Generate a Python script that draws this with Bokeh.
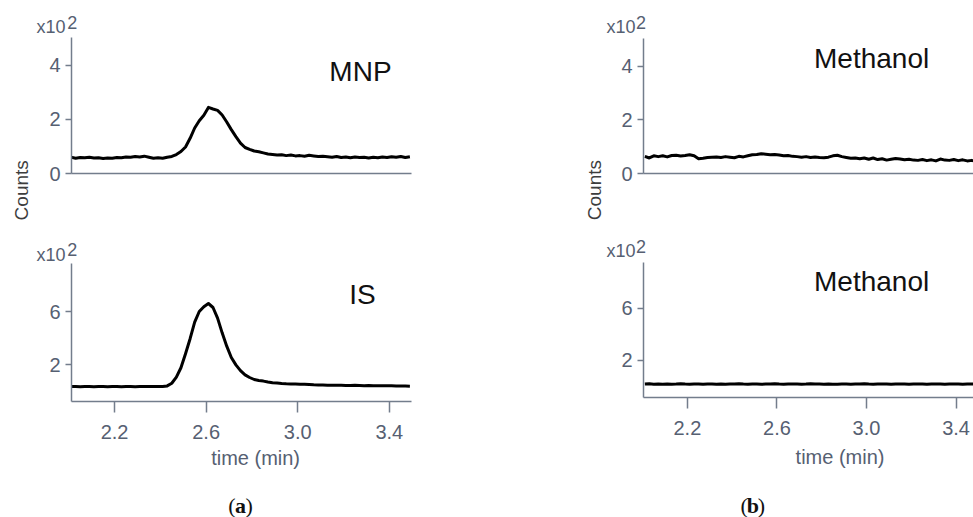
import math
from bokeh.plotting import figure
from bokeh.models import Range1d, FixedTicker, Label
from bokeh.layouts import column, row
from bokeh.embed import file_html
from bokeh.resources import INLINE

# ---------------- data ----------------
time_min = [2.01, 2.03, 2.05, 2.07, 2.09, 2.11, 2.13, 2.15, 2.17, 2.19,
            2.21, 2.23, 2.25, 2.27, 2.29, 2.31, 2.33, 2.35, 2.37, 2.39,
            2.41, 2.43, 2.45, 2.47, 2.49, 2.51, 2.53, 2.55, 2.57, 2.59,
            2.61, 2.63, 2.65, 2.67, 2.69, 2.71, 2.73, 2.75, 2.77, 2.79,
            2.81, 2.83, 2.85, 2.87, 2.89, 2.91, 2.93, 2.95, 2.97, 2.99,
            3.01, 3.03, 3.05, 3.07, 3.09, 3.11, 3.13, 3.15, 3.17, 3.19,
            3.21, 3.23, 3.25, 3.27, 3.29, 3.31, 3.33, 3.35, 3.37, 3.39,
            3.41, 3.43, 3.45, 3.47, 3.49]

# counts x10^2
mnp_counts = [0.60, 0.56, 0.59, 0.58, 0.60, 0.57, 0.58, 0.55, 0.57, 0.56,
              0.59, 0.58, 0.61, 0.60, 0.63, 0.61, 0.64, 0.60, 0.56, 0.58,
              0.56, 0.60, 0.63, 0.70, 0.81, 0.98, 1.30, 1.68, 1.95, 2.15,
              2.44, 2.38, 2.33, 2.16, 1.90, 1.62, 1.36, 1.12, 0.96, 0.89,
              0.83, 0.80, 0.76, 0.72, 0.70, 0.68, 0.69, 0.66, 0.68, 0.65,
              0.66, 0.64, 0.67, 0.65, 0.63, 0.64, 0.62, 0.60, 0.63, 0.59,
              0.61, 0.58, 0.61, 0.59, 0.60, 0.57, 0.60, 0.58, 0.61, 0.59,
              0.62, 0.60, 0.63, 0.59, 0.62]

is_counts = [0.37, 0.37, 0.36, 0.37, 0.37, 0.36, 0.37, 0.37, 0.36, 0.37,
             0.37, 0.36, 0.37, 0.37, 0.36, 0.37, 0.37, 0.37, 0.37, 0.38,
             0.38, 0.42, 0.62, 1.08, 1.78, 2.83, 3.96, 5.20, 6.00, 6.36,
             6.60, 6.30, 5.50, 4.40, 3.40, 2.55, 2.00, 1.57, 1.25, 1.05,
             0.90, 0.83, 0.78, 0.71, 0.65, 0.63, 0.60, 0.58, 0.57, 0.56,
             0.55, 0.54, 0.52, 0.50, 0.49, 0.48, 0.47, 0.47, 0.46, 0.46,
             0.45, 0.45, 0.46, 0.45, 0.44, 0.45, 0.44, 0.44, 0.43, 0.44,
             0.43, 0.42, 0.42, 0.41, 0.40]

methanol_top = [0.64, 0.58, 0.66, 0.63, 0.66, 0.62, 0.67, 0.68, 0.65, 0.67,
                0.70, 0.66, 0.55, 0.57, 0.60, 0.61, 0.62, 0.60, 0.63, 0.61,
                0.59, 0.64, 0.62, 0.66, 0.70, 0.71, 0.74, 0.72, 0.70, 0.71,
                0.69, 0.66, 0.67, 0.64, 0.63, 0.61, 0.63, 0.60, 0.62, 0.60,
                0.59, 0.61, 0.66, 0.68, 0.63, 0.60, 0.57, 0.58, 0.55, 0.58,
                0.53, 0.58, 0.52, 0.55, 0.50, 0.53, 0.56, 0.54, 0.51, 0.53,
                0.50, 0.49, 0.52, 0.48, 0.51, 0.47, 0.54, 0.50, 0.49, 0.52,
                0.48, 0.51, 0.47, 0.49, 0.45]

methanol_bottom = [0.15, 0.17, 0.13, 0.15, 0.14, 0.16, 0.14, 0.15, 0.17, 0.15,
                   0.14, 0.16, 0.15, 0.13, 0.15, 0.16, 0.14, 0.15, 0.14, 0.16,
                   0.15, 0.17, 0.15, 0.14, 0.16, 0.15, 0.14, 0.15, 0.16, 0.17,
                   0.15, 0.14, 0.15, 0.16, 0.15, 0.14, 0.15, 0.17, 0.16, 0.15,
                   0.14, 0.15, 0.13, 0.14, 0.16, 0.15, 0.14, 0.15, 0.16, 0.17,
                   0.15, 0.14, 0.15, 0.16, 0.15, 0.14, 0.15, 0.16, 0.15, 0.14,
                   0.15, 0.16, 0.15, 0.14, 0.15, 0.16, 0.15, 0.14, 0.15, 0.16,
                   0.15, 0.14, 0.15, 0.16, 0.15]

x_ticks = [2.2, 2.6, 3.0, 3.4]
x_tick_labels = ["2.2", "2.6", "3.0", "3.4"]
y_ticks_top = [0, 2, 4]
y_tick_labels_top = ["0", "2", "4"]
y_ticks_bottom = [2, 6]
y_tick_labels_bottom = ["2", "6"]

AXIS = "#737d8c"
TICKTXT = "#566072"
FONT = "Liberation Sans"
SERIF = "Liberation Serif"


def make_panel(width, height, x_rng, y_rng, borders, y_ticks, y_labels, x_ticked,
               x_standoff=12):
    l, r, t, b = borders
    p = figure(width=width, height=height,
               x_range=Range1d(*x_rng), y_range=Range1d(*y_rng),
               output_backend="svg", toolbar_location=None,
               min_border_left=l, min_border_right=r,
               min_border_top=t, min_border_bottom=b)
    p.grid.visible = False
    p.outline_line_color = None
    p.background_fill_color = "white"
    p.border_fill_color = "white"
    for ax in (p.xaxis[0], p.yaxis[0]):
        ax.axis_line_color = AXIS
        ax.axis_line_width = 1.5
        ax.major_tick_line_color = AXIS
        ax.major_tick_line_width = 1.5
        ax.minor_tick_line_color = None
        ax.major_tick_in = 0
        ax.major_label_text_font = FONT
        ax.major_label_text_font_size = "20px"
        ax.major_label_text_color = TICKTXT
    p.yaxis[0].ticker = FixedTicker(ticks=y_ticks, minor_ticks=[])
    p.yaxis[0].major_label_overrides = dict(zip(y_ticks, y_labels))
    p.yaxis[0].major_tick_out = 6
    p.yaxis[0].major_label_standoff = 5
    if x_ticked:
        p.xaxis[0].ticker = FixedTicker(ticks=x_ticks, minor_ticks=[])
        p.xaxis[0].major_label_overrides = dict(zip(x_ticks, x_tick_labels))
        p.xaxis[0].major_tick_out = 11
        p.xaxis[0].major_label_standoff = x_standoff
    else:
        p.xaxis[0].ticker = FixedTicker(ticks=[], minor_ticks=[])
        p.xaxis[0].major_tick_out = 0
    return p


def txt(p, side, x, y, text, size, color, angle=0.0, align="center", bold=False,
        font=FONT, x_offset=0):
    lab = Label(x=x, y=y, text=text,
                text_font=font, text_font_size=size, text_color=color,
                text_align=align, text_baseline="middle",
                angle=angle,
                text_font_style="bold" if bold else "normal",
                x_offset=x_offset)
    if side == "center":
        p.add_layout(lab)
    else:
        p.add_layout(lab, side)


LW = 3
BIG = "28px"
SMALL = "18px"

# ---- (a) top: MNP   (frame 71..411 x 37..173)
tl = make_panel(488, 232, (2.012, 3.497), (0, 5.02), (71, 77, 37, 59),
                y_ticks_top, y_tick_labels_top, False)
tl.line(time_min, mnp_counts, line_color="black", line_width=LW, line_join="round")
txt(tl, "center", 3.274, 3.77, "MNP", BIG, "#111111")
txt(tl, "above", 1.986, 5.41, "x10", SMALL, TICKTXT, align="right")
txt(tl, "left", 1.993, 5.57, "2", SMALL, TICKTXT, align="left")
txt(tl, "left", 1.794, -0.62, "Counts", "19px", "#3d3d3d", angle=math.pi / 2)

# ---- (a) bottom: IS   (frame 71..411 x 263..401)
bl = make_panel(488, 285, (2.012, 3.497), (-0.75, 9.6), (71, 77, 31, 116),
                y_ticks_bottom, y_tick_labels_bottom, True)
bl.line(time_min, is_counts, line_color="black", line_width=LW, line_join="round")
txt(bl, "center", 3.283, 7.27, "IS", BIG, "#111111")
txt(bl, "above", 1.986, 10.27, "x10", SMALL, TICKTXT, align="right")
txt(bl, "left", 1.993, 10.62, "2", SMALL, TICKTXT, align="left")
txt(bl, "below", 2.816, -4.95, "time (min)", "20px", TICKTXT)
txt(bl, "left", 2.750, -8.56, "(", "22px", "#111111", align="right", font=SERIF, x_offset=-5)
txt(bl, "left", 2.750, -8.56, "a", "22px", "#111111", bold=True, font=SERIF)
txt(bl, "left", 2.750, -8.56, ")", "22px", "#111111", align="left", font=SERIF, x_offset=5)

# ---- (b) top: Methanol   (frame 643..973 x 38..173)
tr = make_panel(485, 232, (2.004, 3.478), (0, 5.04), (155, 0, 38, 59),
                y_ticks_top, y_tick_labels_top, False)
tr.line(time_min, methanol_top, line_color="black", line_width=LW, line_join="round")
txt(tr, "center", 3.023, 4.30, "Methanol", BIG, "#111111")
txt(tr, "above", 1.968, 5.46, "x10", SMALL, TICKTXT, align="right")
txt(tr, "left", 1.970, 5.62, "2", SMALL, TICKTXT, align="left")
txt(tr, "left", 1.785, -0.62, "Counts", "19px", "#3d3d3d", angle=math.pi / 2)

# ---- (b) bottom: Methanol   (frame 643..973 x 262..397)
br = make_panel(485, 285, (2.004, 3.478), (-0.88, 9.5), (155, 0, 30, 120),
                y_ticks_bottom, y_tick_labels_bottom, True)
br.line(time_min, methanol_bottom, line_color="black", line_width=LW, line_join="round")
txt(br, "center", 3.023, 8.02, "Methanol", BIG, "#111111")
txt(br, "above", 1.968, 10.41, "x10", SMALL, TICKTXT, align="right")
txt(br, "left", 1.970, 10.72, "2", SMALL, TICKTXT, align="left")
txt(br, "left", 2.882, -5.44, "time (min)", "20px", TICKTXT)
txt(br, "left", 2.492, -9.18, "(", "22px", "#111111", align="right", font=SERIF, x_offset=-5)
txt(br, "left", 2.492, -9.18, "b", "22px", "#111111", bold=True, font=SERIF)
txt(br, "left", 2.492, -9.18, ")", "22px", "#111111", align="left", font=SERIF, x_offset=5)

# columns first, so each panel keeps its own vertical frame position
layout = row(column(tl, bl), column(tr, br))

open("out.html", "w").write(file_html(layout, INLINE))
